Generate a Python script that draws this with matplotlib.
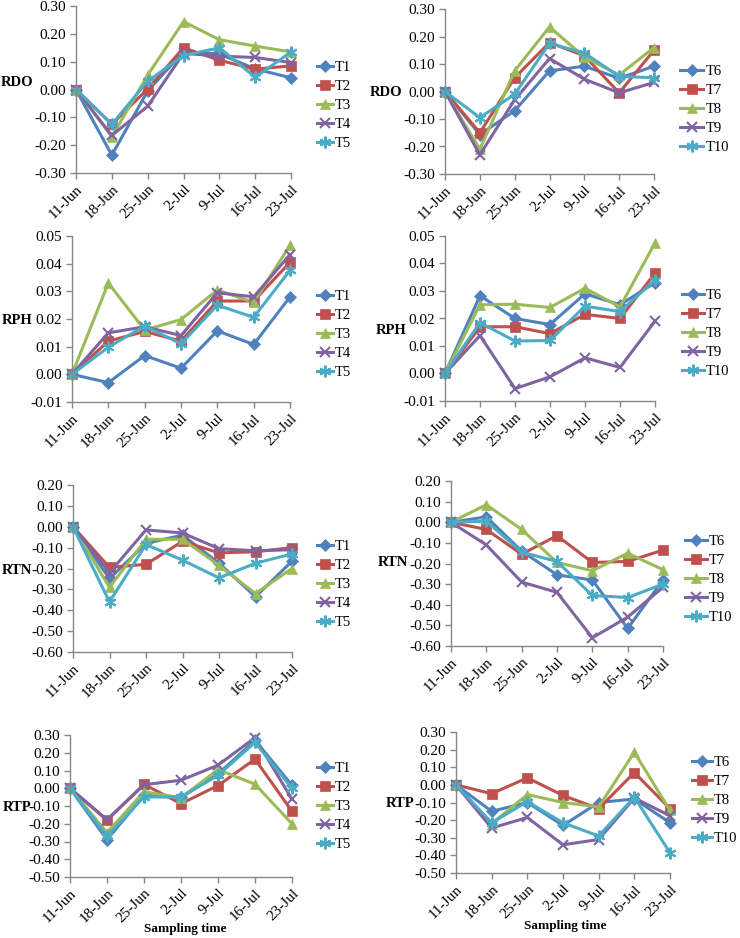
import matplotlib
matplotlib.use("Agg")
import matplotlib.pyplot as plt

plt.rcParams['font.family'] = ['Liberation Serif', 'DejaVu Serif']
plt.rcParams['axes.unicode_minus'] = False

dates = ['11-Jun', '18-Jun', '25-Jun', '2-Jul', '9-Jul', '16-Jul', '23-Jul']
names_a = ['T1', 'T2', 'T3', 'T4', 'T5']
names_b = ['T6', 'T7', 'T8', 'T9', 'T10']

# RDO
rdo_a = [
    [0, -0.236, -0.005, 0.135, 0.128, 0.074, 0.042],
    [0, -0.125, 0.002, 0.150, 0.105, 0.073, 0.085],
    [0, -0.170, 0.052, 0.244, 0.179, 0.156, 0.135],
    [0, -0.165, -0.060, 0.130, 0.120, 0.115, 0.097],
    [0, -0.125, 0.030, 0.122, 0.150, 0.044, 0.135],
]
rdo_b = [
    [0, -0.157, -0.070, 0.075, 0.092, 0.048, 0.092],
    [0, -0.150, 0.050, 0.178, 0.130, -0.005, 0.150],
    [0, -0.210, 0.075, 0.235, 0.125, 0.060, 0.160],
    [0, -0.230, -0.030, 0.120, 0.045, -0.005, 0.033],
    [0, -0.095, -0.010, 0.175, 0.140, 0.055, 0.050],
]
# RPH
rph_a = [
    [0, -0.003, 0.0068, 0.0022, 0.0157, 0.0108, 0.0280],
    [0, 0.0120, 0.0155, 0.0120, 0.0265, 0.0265, 0.0405],
    [0, 0.0330, 0.0160, 0.0198, 0.0305, 0.0260, 0.0467],
    [0, 0.0150, 0.0172, 0.0140, 0.0295, 0.0280, 0.0433],
    [0, 0.0098, 0.0175, 0.0110, 0.0250, 0.0206, 0.0376],
]
rph_b = [
    [0, 0.0283, 0.0200, 0.0178, 0.0290, 0.0250, 0.0330],
    [0, 0.0170, 0.0170, 0.0145, 0.0215, 0.0200, 0.0365],
    [0, 0.0250, 0.0252, 0.0240, 0.0310, 0.0242, 0.0475],
    [0, 0.0138, -0.0055, -0.0012, 0.0057, 0.0022, 0.0190],
    [0, 0.0185, 0.0118, 0.0120, 0.0245, 0.0225, 0.0340],
]
# RTN
rtn_a = [
    [0, -0.248, -0.080, -0.040, -0.175, -0.335, -0.165],
    [0, -0.195, -0.180, -0.070, -0.125, -0.120, -0.100],
    [0, -0.290, -0.060, -0.060, -0.185, -0.320, -0.200],
    [0, -0.220, -0.015, -0.030, -0.105, -0.115, -0.110],
    [0, -0.360, -0.085, -0.160, -0.245, -0.175, -0.130],
]
rtn_b = [
    [0, 0.026, -0.140, -0.255, -0.280, -0.515, -0.280],
    [0, -0.035, -0.155, -0.065, -0.195, -0.190, -0.135],
    [0, 0.085, -0.035, -0.195, -0.235, -0.150, -0.230],
    [0, -0.110, -0.290, -0.340, -0.560, -0.460, -0.315],
    [0, 0.005, -0.145, -0.190, -0.355, -0.365, -0.300],
]
# RTP
rtp_a = [
    [0, -0.290, -0.040, -0.050, 0.080, 0.270, 0.017],
    [0, -0.180, 0.022, -0.087, 0.015, 0.164, -0.130],
    [0, -0.250, -0.020, -0.053, 0.105, 0.023, -0.200],
    [0, -0.177, 0.020, 0.045, 0.130, 0.285, -0.062],
    [0, -0.270, -0.049, -0.050, 0.073, 0.258, 0.000],
]
rtp_b = [
    [0, -0.150, -0.100, -0.230, -0.100, -0.080, -0.215],
    [0, -0.050, 0.040, -0.060, -0.135, 0.070, -0.135],
    [0, -0.220, -0.055, -0.100, -0.125, 0.185, -0.145],
    [0, -0.245, -0.185, -0.340, -0.310, -0.075, -0.175],
    [0, -0.215, -0.095, -0.215, -0.290, -0.070, -0.385],
]

colors = ['#4F81BD', '#C0504D', '#9BBB59', '#8064A2', '#4BACC6']
markers = ['D', 's', '^', 'x', (6, 2, 0)]
msizes = [6, 7, 7, 7.5, 8.5]

W, H = 740, 938
fig = plt.figure(figsize=(W / 100, H / 100), dpi=100)

# plot box (left, right, top, bottom px), y-label centre, legend corner, handle length, y ticks
panels = [
    (rdo_a, names_a, 'RDO', (76, 291, 6, 173), (17, 83), (317, 61), 1.1, (-0.3, 0.3, 0.1)),
    (rdo_b, names_b, 'RDO', (445, 654, 9, 174), (386, 92), (680, 65), 1.6, (-0.3, 0.3, 0.1)),
    (rph_a, names_a, 'RPH', (72, 290, 236, 402), (17, 320), (317, 290), 1.1, (-0.01, 0.05, 0.01)),
    (rph_b, names_b, 'RPH', (445, 655, 236, 401), (391, 330), (682, 289), 1.5, (-0.01, 0.05, 0.01)),
    (rtn_a, names_a, 'RTN', (73, 292, 485, 652), (17, 570), (317, 540), 1.1, (-0.6, 0.2, 0.1)),
    (rtn_b, names_b, 'RTN', (451, 663, 481, 646), (393, 562), (685, 535), 1.5, (-0.6, 0.2, 0.1)),
    (rtp_a, names_a, 'RTP', (70, 292, 735, 877), (17, 807), (317, 762), 1.1, (-0.5, 0.3, 0.1)),
    (rtp_b, names_b, 'RTP', (456, 670, 732, 873), (400, 803), (692, 756), 1.35, (-0.5, 0.3, 0.1)),
]

x = list(range(len(dates)))
for data, names, ylab, box, lab_pos, leg_pos, hl, yt in panels:
    l, r, t, b = box
    ax = fig.add_axes([l / W, 1 - b / H, (r - l) / W, (b - t) / H])
    for i, series in enumerate(data):
        ax.plot(x, series, color=colors[i], marker=markers[i], markersize=msizes[i],
                linewidth=2.2, markeredgewidth=1.5 if i >= 3 else 0.5,
                label=names[i], clip_on=False)
    lo, hi, step = yt
    n = int(round((hi - lo) / step))
    ticks = [lo + k * step for k in range(n + 1)]
    ax.set_ylim(lo, hi)
    ax.set_yticks(ticks)
    ax.set_yticklabels(['%.2f' % v for v in ticks])
    ax.set_xlim(0, 6)
    ax.set_xticks(x)
    ax.set_xticklabels(dates, rotation=45, ha='right', rotation_mode='anchor')
    for s in ['top', 'right']:
        ax.spines[s].set_visible(False)
    for s in ['left', 'bottom']:
        ax.spines[s].set_color('#868686')
        ax.spines[s].set_linewidth(1)
    ax.tick_params(axis='both', direction='out', length=4, width=1, color='#868686',
                   labelsize=11, pad=3)
    fig.text(lab_pos[0] / W, 1 - lab_pos[1] / H, ylab, fontsize=10.5, fontweight='bold',
             ha='center', va='center')
    ax.legend(loc='upper left', bbox_to_anchor=(leg_pos[0] / W, 1 - leg_pos[1] / H),
              bbox_transform=fig.transFigure, frameon=False, fontsize=10.5,
              borderpad=0, borderaxespad=0, handlelength=hl, handletextpad=0.15,
              labelspacing=0.4)

fig.text(185 / W, 1 - 929 / H, 'Sampling time', fontsize=9.5, fontweight='bold',
         ha='center', va='center')
fig.text(565 / W, 1 - 926 / H, 'Sampling time', fontsize=9.5, fontweight='bold',
         ha='center', va='center')

fig.savefig('out.png', dpi=100)
